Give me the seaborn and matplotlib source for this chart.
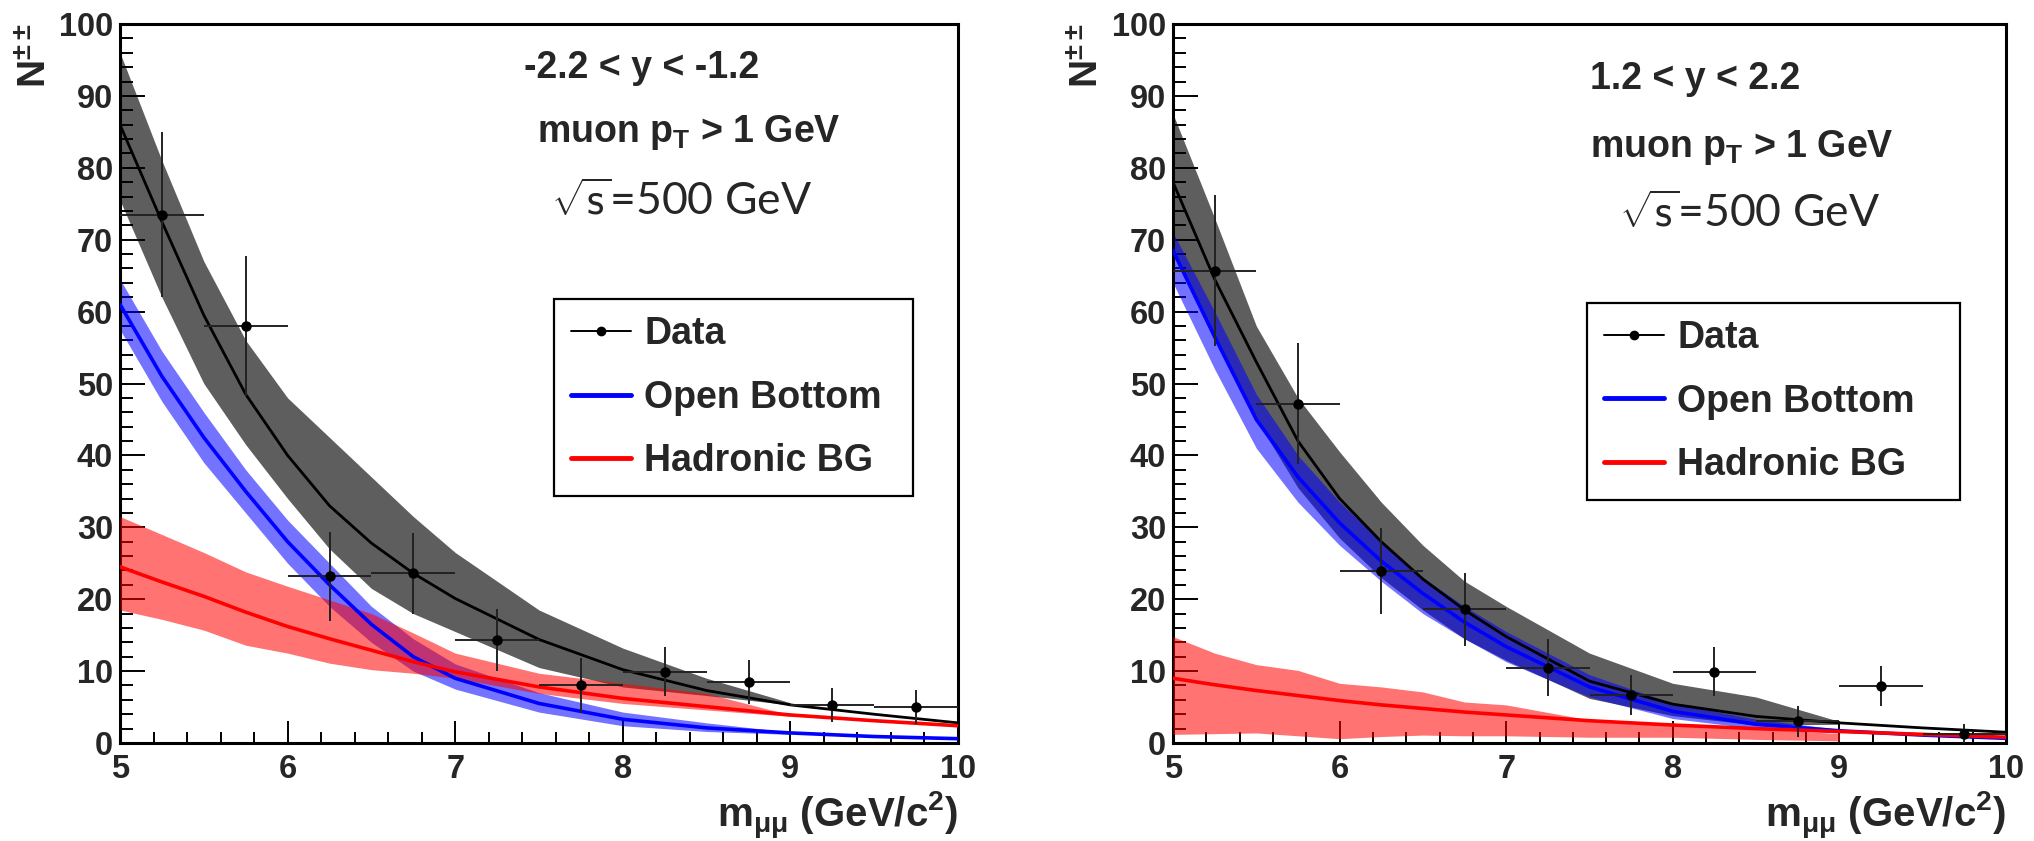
import numpy as np
import pandas as pd
import matplotlib
matplotlib.use("Agg")
import matplotlib.pyplot as plt
import seaborn as sns
from matplotlib.lines import Line2D
from matplotlib.ticker import MultipleLocator

# ---------------- data ----------------
bin_centers = [5.25, 5.75, 6.25, 6.75, 7.25, 7.75, 8.25, 8.75, 9.25, 9.75]
bin_halfwidth = 0.25

left_counts = [73.5, 58.0, 23.2, 23.6, 14.3, 8.0, 9.9, 8.5, 5.3, 5.0]
left_errs = [11.5, 9.7, 6.2, 5.6, 4.3, 3.8, 3.4, 3.1, 2.4, 2.4]
right_counts = [65.7, 47.2, 23.9, 18.6, 10.5, 6.7, 9.9, 3.0, 7.9, 1.3]
right_errs = [10.5, 8.4, 6.0, 5.1, 3.9, 2.8, 3.4, 2.2, 2.8, 1.4]

fit_x = [5.0, 5.25, 5.5, 5.75, 6.0, 6.25, 6.5, 6.75, 7.0, 7.5, 8.0, 8.5, 9.0, 9.5, 10.0]
left_total = [86, 72.5, 59.5, 48.5, 40, 33, 27.8, 23.6, 20.1, 14.4, 10.2, 7.3, 5.3, 4.0, 2.8]
left_bottom = [61, 51, 42.5, 35, 28, 22, 16.5, 12, 9, 5.5, 3.3, 2.1, 1.4, 0.9, 0.6]
left_hadronic = [24.5, 22.4, 20.4, 18.2, 16.2, 14.5, 12.9, 11.3, 9.9, 7.8, 6.2, 5.05, 3.9, 3.1, 2.4]
right_total = [78, 64.5, 53, 42, 34, 28, 22.8, 18.5, 14.8, 8.6, 5.4, 3.7, 2.8, 2.1, 1.5]
right_bottom = [68.5, 56.5, 45, 37, 30.6, 25.3, 20.8, 16.8, 13.4, 7.8, 4.4, 2.6, 1.7, 1.1, 0.65]
right_hadronic = [9.0, 8.1, 7.3, 6.6, 5.9, 5.3, 4.8, 4.3, 3.9, 3.1, 2.5, 2.0, 1.6, 1.2, 0.8]

band_x = [5.0, 5.25, 5.5, 5.75, 6.0, 6.25, 6.5, 6.75, 7.0, 7.5, 8.0, 8.5, 9.0]
left_total_hi = [96, 81, 67, 56, 48, 42.5, 37, 31.5, 26.5, 18.5, 13.2, 9.0, 5.6]
left_total_lo = [75.5, 62, 50, 41.5, 34, 27, 21.5, 18, 15.5, 10.5, 7.8, 6.6, 5.3]
left_bottom_hi = [64.5, 54.5, 46, 38, 31, 25, 19, 14.5, 11, 7, 4.3, 2.8, 1.5]
left_bottom_lo = [57.5, 47.5, 39, 32, 25, 19, 14, 10, 7.5, 4.3, 2.4, 1.6, 1.2]
left_had_hi = [31.5, 29, 26.5, 23.8, 21.8, 19.9, 18, 15.3, 12.5, 9.7, 8.3, 6.9, 3.9]
left_had_lo = [18.5, 17.2, 15.7, 13.6, 12.5, 11.1, 10.2, 9.7, 9.0, 6.9, 5.5, 4.6, 3.7]
right_total_hi = [87.5, 73, 58, 48, 40.5, 33.5, 27.5, 22.5, 19, 12.5, 8.3, 6.4, 3.0]
right_total_lo = [68, 56, 45, 35.5, 28.5, 23, 18.5, 14.5, 11.5, 6.2, 3.8, 2.5, 2.6]
right_bottom_hi = [71, 60, 48.5, 40, 33.5, 28, 23, 19, 15.5, 9.5, 5.5, 3.3, 1.9]
right_bottom_lo = [64, 52, 41, 33.5, 27.5, 22.5, 18, 14.5, 11.3, 6.4, 3.4, 2.0, 1.4]
right_had_hi = [14.8, 12.5, 10.9, 10.1, 8.3, 7.8, 7.1, 5.7, 5.3, 3.2, 2.7, 2.0, 1.3]
right_had_lo = [1.2, 1.3, 1.4, 1.0, 0.6, 0.9, 1.1, 1.0, 1.0, 0.8, 0.8, 0.5, 0.3]

legend_labels = ["Data", "Open Bottom", "Hadronic BG"]
rapidity_labels = ["-2.2 < y < -1.2", "1.2 < y < 2.2"]
pt_label = r"muon p$_{T}$ > 1 GeV"
energy_label = r"$\sqrt{\mathsf{s}}$=500 GeV"
xlabel = r"m$_{\mu\mu}$ (GeV/c$^{2}$)"
ylabel = r"N$^{\pm\pm}$"

# ---------------- style ----------------
sns.set_theme(style="white")
plt.rcParams["font.family"] = ["Liberation Sans", "DejaVu Sans"]
plt.rcParams["font.weight"] = "bold"
plt.rcParams.update({
    "mathtext.fontset": "custom",
    "mathtext.rm": "Liberation Sans:bold",
    "mathtext.it": "Liberation Sans:bold",
    "mathtext.bf": "Liberation Sans:bold",
    "mathtext.sf": "Liberation Sans:bold",
    "mathtext.default": "bf",
    "axes.facecolor": "white",
    "figure.facecolor": "white",
})

W, H = 2034, 841
fig = plt.figure(figsize=(W / 100, H / 100), dpi=100)
ax_l = fig.add_axes([120 / W, 98 / H, 838 / W, 719 / H])
ax_r = fig.add_axes([1173 / W, 98 / H, 833 / W, 719 / H])


def draw_panel(ax, total, bottom, had, t_hi, t_lo, b_hi, b_lo, h_hi, h_lo,
               counts, errs, rap, rap_pos, pt_pos, en_pos, leg_box, ylab_x):
    ax.fill_between(band_x, t_lo, t_hi, color="black", alpha=0.63, linewidth=0, zorder=1)
    ax.fill_between(band_x, b_lo, b_hi, color="#0000ff", alpha=0.55, linewidth=0, zorder=2)
    ax.fill_between(band_x, h_lo, h_hi, color="#ff0000", alpha=0.55, linewidth=0, zorder=3)
    df = pd.DataFrame({"x": fit_x, "total": total, "bottom": bottom, "had": had})
    sns.lineplot(data=df, x="x", y="total", ax=ax, color="black", linewidth=2.0,
                 estimator=None, sort=False, zorder=4)
    sns.lineplot(data=df, x="x", y="bottom", ax=ax, color="#0000ff", linewidth=2.6,
                 estimator=None, sort=False, zorder=4)
    sns.lineplot(data=df, x="x", y="had", ax=ax, color="#ff0000", linewidth=2.6,
                 estimator=None, sort=False, zorder=4)
    ax.errorbar(bin_centers, counts, xerr=bin_halfwidth, yerr=errs, fmt="o",
                color="black", ecolor="#222222", ms=6.5, elinewidth=1.4, capsize=0, zorder=6)

    ax.set_xlim(5, 10)
    ax.set_ylim(0, 100)
    ax.set_xlabel("")
    ax.set_ylabel("")
    ax.xaxis.set_major_locator(MultipleLocator(1))
    ax.xaxis.set_minor_locator(MultipleLocator(0.2))
    ax.yaxis.set_major_locator(MultipleLocator(10))
    ax.yaxis.set_minor_locator(MultipleLocator(2))
    ax.tick_params(axis="both", which="both", direction="in", top=False, right=False,
                   bottom=True, left=True, color="black")
    ax.tick_params(axis="y", which="major", length=18, width=1.4, labelsize=23.5, pad=5)
    ax.tick_params(axis="y", which="minor", length=9, width=1.4)
    ax.tick_params(axis="x", which="major", length=16, width=1.4, labelsize=23.5, pad=8)
    ax.tick_params(axis="x", which="minor", length=8, width=1.4)
    for lab in ax.get_xticklabels() + ax.get_yticklabels():
        lab.set_fontweight("bold")
    for sp in ax.spines.values():
        sp.set_linewidth(2.2)
        sp.set_color("black")
        sp.set_visible(True)
    ax.grid(False)

    ax.text(rap_pos[0], rap_pos[1], rap, transform=ax.transAxes, fontsize=27,
            fontweight="bold", ha="left", va="baseline")
    ax.text(pt_pos[0], pt_pos[1], pt_label, transform=ax.transAxes, fontsize=27,
            fontweight="bold", ha="left", va="baseline")
    ax.text(en_pos[0], en_pos[1], energy_label, transform=ax.transAxes, fontsize=32,
            fontweight="normal", family=["Lato", "DejaVu Sans"], math_fontfamily="cm",
            ha="left", va="baseline")
    ax.text(1.0, -0.118, xlabel, transform=ax.transAxes, fontsize=29,
            fontweight="bold", ha="right", va="baseline")
    ax.text(ylab_x, 1.0, ylabel, transform=ax.transAxes, fontsize=28,
            fontweight="bold", rotation=90, ha="center", va="top")

    handles = [
        Line2D([], [], color="black", lw=1.4, marker="o", ms=6),
        Line2D([], [], color="#0000ff", lw=3.5),
        Line2D([], [], color="#ff0000", lw=3.5),
    ]
    leg = ax.legend(handles, legend_labels, loc="upper left", bbox_to_anchor=leg_box,
                    mode="expand", borderaxespad=0, fancybox=False, framealpha=1,
                    prop={"weight": "bold", "size": 27}, handlelength=1.6,
                    handletextpad=0.35, labelspacing=0.74, borderpad=0.45)
    leg.get_frame().set_edgecolor("black")
    leg.get_frame().set_linewidth(1.6)
    leg.set_zorder(10)


draw_panel(ax_l, left_total, left_bottom, left_hadronic,
           left_total_hi, left_total_lo, left_bottom_hi, left_bottom_lo, left_had_hi, left_had_lo,
           left_counts, left_errs, rapidity_labels[0],
           (0.482, 0.925), (0.498, 0.836), (0.514, 0.734),
           (0.518, 0.339, 0.428, 0.2785), -0.10)
draw_panel(ax_r, right_total, right_bottom, right_hadronic,
           right_total_hi, right_total_lo, right_bottom_hi, right_bottom_lo, right_had_hi, right_had_lo,
           right_counts, right_errs, rapidity_labels[1],
           (0.5006, 0.9096), (0.5006, 0.815), (0.535, 0.718),
           (0.497, 0.334, 0.448, 0.278), -0.102)

fig.savefig("out.png", dpi=100)
